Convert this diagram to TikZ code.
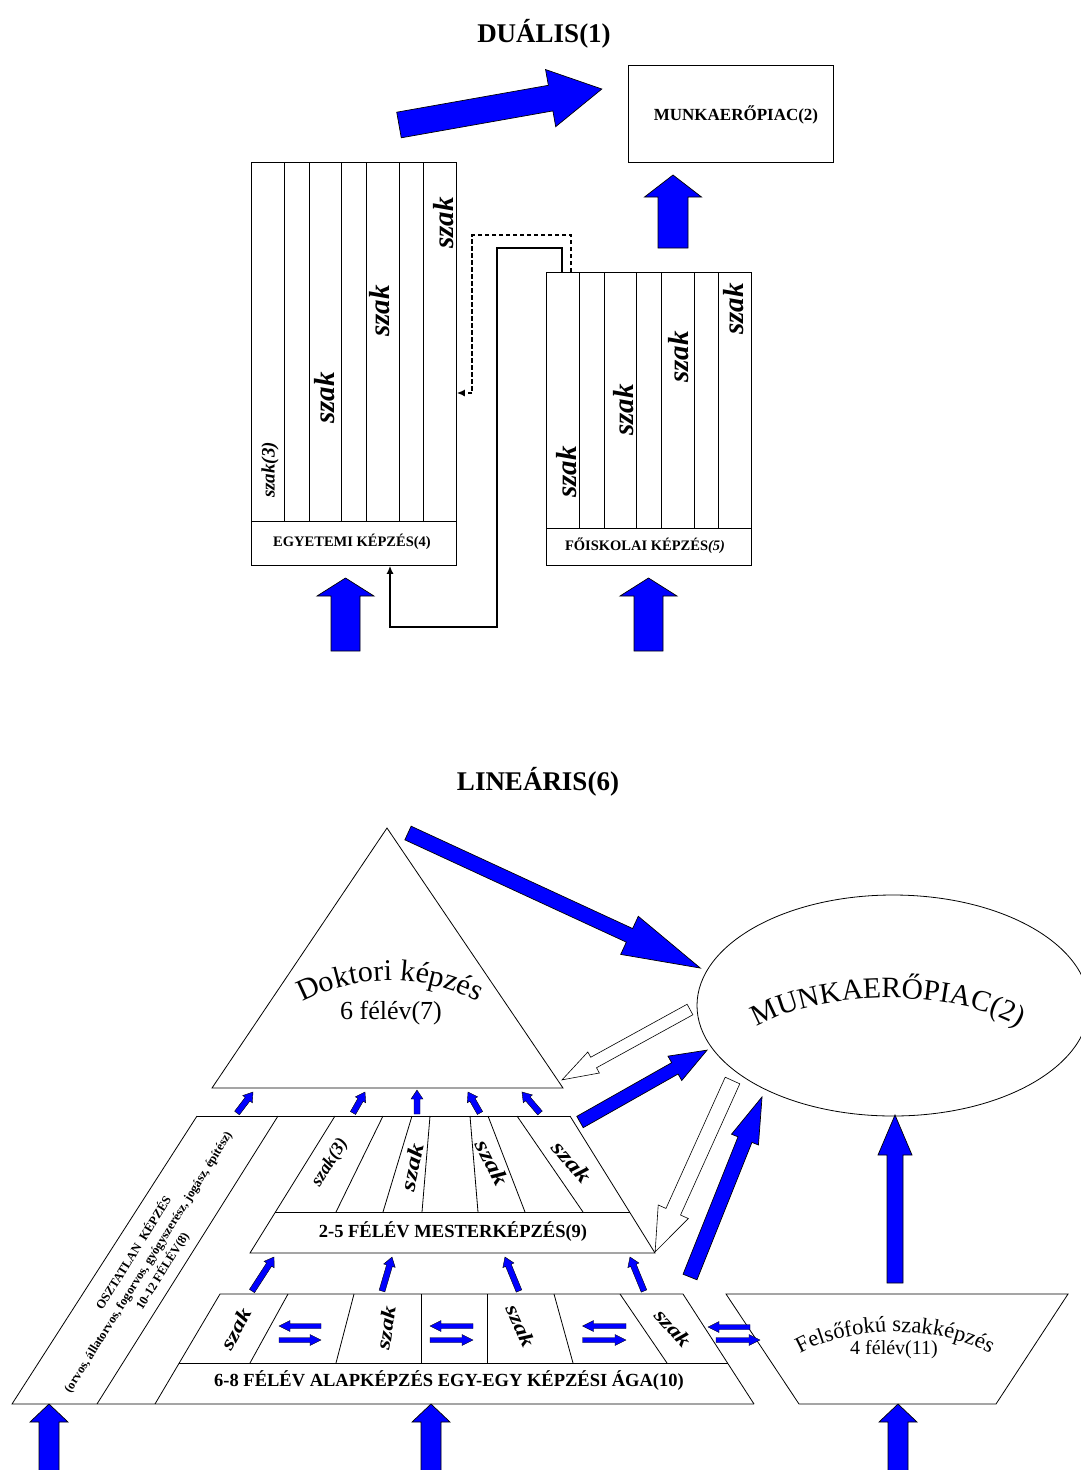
\documentclass[tikz,border=0pt]{standalone}
\usepackage{fontspec}
\setmainfont{Liberation Serif}
\usetikzlibrary{shapes.geometric,arrows.meta,decorations.text}
\definecolor{ablue}{RGB}{0,0,255}
\newcommand\fsz[1]{\fontsize{#1}{#1}\selectfont}
\tikzset{
  thinl/.style={draw=black, line width=0.8pt},
  boxnode/.style={draw=black, line width=0.8pt, inner sep=0pt},
  ba/.style={draw=black, line width=0.7pt, fill=ablue},
  wa/.style={draw=black, line width=0.6pt, fill=white},
  sa/.style={draw=black, line width=0.4pt, fill=ablue},
  pics/barrow/.style n args={4}{code={%
    \draw[pic actions] (0,#2) -- ({#1-#4},#2) -- ({#1-#4},#3) -- (#1,0) -- ({#1-#4},-#3) -- ({#1-#4},-#2) -- (0,-#2) -- cycle;}},
  dszak/.style={rotate=90, font=\bfseries\itshape\fsz{29}, inner sep=0pt},
  dszaks/.style={rotate=90, font=\bfseries\itshape\fsz{19}, inner sep=0pt},
  pszak/.style={font=\bfseries\itshape\fsz{27}, inner sep=0pt},
  bszak/.style={font=\bfseries\itshape\fsz{25}, inner sep=0pt},
  capt/.style={font=\bfseries\fsz{14.5}, inner sep=0pt},
  bandt/.style={font=\bfseries\fsz{18.5}, inner sep=0pt},
  titlet/.style={font=\bfseries\fsz{27}, anchor=base, inner sep=0pt},
  dconn/.style={line width=1.8pt, dash pattern=on 4.5pt off 2.5pt, -{Latex[length=8pt,width=7pt]}},
  sconn/.style={line width=1.6pt, -{Latex[length=8pt,width=7pt]}},
}
\begin{document}
\begin{tikzpicture}[x=1pt,y=-1pt]
\useasboundingbox (0,0) rectangle (1081,1470);
\clip (0,0) rectangle (1081,1470);
\fill[white] (0,0) rectangle (1081,1470);

% ---------------- DUAL ----------------
\node[titlet] (t1) at (544,42) {DUÁLIS(1)};

\node[boxnode, minimum width=205pt, minimum height=97pt, anchor=north west] (mp) at (628,65) {};
\node[font=\bfseries\fsz{17}, inner sep=0pt] (mpt) at (736,115) {MUNKAERŐPIAC(2)};

% Egyetemi
\node[boxnode, minimum width=205pt, minimum height=403pt, anchor=north west] (egy) at (251,162) {};
\draw[thinl] (251,521) -- (456,521);
\foreach \x in {284,309,341,366,399,423} \draw[thinl] (\x,162) -- (\x,521);
\node[capt] (egyc) at (352,542) {EGYETEMI KÉPZÉS(4)};
\node[dszaks] (e1) at (270,470) {szak(3)};
\node[dszak] (e2) at (325,398) {szak};
\node[dszak] (e3) at (380,311) {szak};
\node[dszak] (e4) at (444,223) {szak};

% Foiskolai
\node[boxnode, minimum width=205pt, minimum height=293pt, anchor=north west] (foi) at (546,272) {};
\draw[thinl] (546,528) -- (751,528);
\foreach \x in {579,604,636,661,694,718} \draw[thinl] (\x,272) -- (\x,528);
\node[capt] (foic) at (645,546) {FŐISKOLAI KÉPZÉS\textit{(5)}};
\node[dszak] (f1) at (567,472) {szak};
\node[dszak] (f2) at (624,410) {szak};
\node[dszak] (f3) at (679,357) {szak};
\node[dszak] (f4) at (734,309) {szak};

% connectors
\coordinate (d1) at (571,235);
\coordinate (d2) at (472,235);
\coordinate (d3) at (472,393);
\draw[dconn] ([xshift=25pt]foi.north west) -- (d1) -- (d2) -- (d3) -- (d3 -| egy.east);
\coordinate (s1) at (562,248);
\coordinate (s2) at (497,248);
\coordinate (s3) at (497,627);
\coordinate (s4) at (390,627);
\draw[sconn] ([xshift=16pt]foi.north west) -- (s1) -- (s2) -- (s3) -- (s4) -- (s4 |- egy.south);

% blue arrows (dual)
\pic[ba, rotate=10.06] at (399,125) {barrow={206}{13}{29}{52}};
\pic[ba, rotate=90] at (673,248) {barrow={73}{15}{28.5}{22}};
\pic[ba, rotate=90] at (345.5,651) {barrow={73}{14.5}{28.5}{18}};
\pic[ba, rotate=90] at (648.5,651) {barrow={73}{14.5}{28.5}{18}};

% ---------------- LINEAR ----------------
\node[titlet] (t2) at (538,790) {LINEÁRIS(6)};

% triangle
\draw[thinl] (387,828) -- (212,1088) -- (563,1088) -- cycle;
\path[decorate, decoration={text along path, text={|\fsz{30}|Doktori képzés}, text align=center}]
  (286,1012) .. controls (348,970) and (432,970) .. (494,1012);
\node[font=\fsz{26}, inner sep=0pt] (dok2) at (391,1013) {6 félév(7)};

% ellipse
\node[ellipse, draw=black, line width=0.8pt, minimum width=392pt, minimum height=221pt, inner sep=0pt] (mk) at (893,1005.5) {};
\path[decorate, decoration={text along path, text={|\fsz{29.5}|MUNKAERŐPIAC(2)}, text align=center}]
  (746,1034) .. controls (812,986) and (964,986) .. (1030,1034);

% parallelogram and pyramid
\draw[thinl] (197,1116) -- (570,1116);
\draw[thinl] (197,1116) -- (12,1404) -- (754,1404);
\draw[thinl] (278,1116) -- (97,1404);
\node[font=\bfseries\fontsize{12.5}{17}\selectfont, align=center, rotate=58, inner sep=0pt] (oszt) at (148,1262)
  {OSZTATLAN~~KÉPZÉS\\(orvos, állatorvos, fogorvos, gyógyszerész, jogász, építész)\\10-12 FÉLÉV(8)};

% master
\draw[thinl] (335,1116) -- (250,1253) -- (655,1253) -- (570,1116);
\draw[thinl] (275.4,1212) -- (629.6,1212);
\draw[thinl] (383,1116) -- (336,1212);
\draw[thinl] (412,1116) -- (383,1212);
\draw[thinl] (430,1116) -- (422,1212);
\draw[thinl] (470,1116) -- (478,1212);
\draw[thinl] (488,1116) -- (525,1212);
\draw[thinl] (517,1116) -- (583,1212);
\node[bandt] (mst) at (453,1232) {2-5 FÉLÉV MESTERKÉPZÉS(9)};
\node[font=\bfseries\itshape\fsz{18}, inner sep=0pt, rotate=58] (m1) at (330,1163) {szak(3)};
\node[pszak, rotate=78] (m2) at (412,1167) {\scalebox{1}[0.8]{szak}};
\node[pszak, rotate=-63] (m3) at (492,1163) {\scalebox{1}[0.8]{szak}};
\node[pszak, rotate=-50] (m4) at (572,1162) {\scalebox{1}[0.8]{szak}};

% bachelor
\draw[thinl] (155,1404) -- (220,1294) -- (683,1294) -- (754,1404);
\draw[thinl] (179.2,1363) -- (727.5,1363);
\draw[thinl] (288,1294) -- (250,1363);
\draw[thinl] (354,1294) -- (336,1363);
\draw[thinl] (421,1294) -- (421,1363);
\draw[thinl] (487,1294) -- (487,1363);
\draw[thinl] (554,1294) -- (573,1363);
\draw[thinl] (620,1294) -- (667,1363);
\node[bandt] (bst) at (449,1381) {6-8 FÉLÉV ALAPKÉPZÉS EGY-EGY KÉPZÉSI ÁGA(10)};
\node[bszak, rotate=62] (b1) at (236,1329) {\scalebox{1}[0.8]{szak}};
\node[bszak, rotate=82] (b2) at (386,1328) {\scalebox{1}[0.8]{szak}};
\node[bszak, rotate=-65] (b3) at (521,1326) {\scalebox{1}[0.8]{szak}};
\node[bszak, rotate=-48] (b4) at (673,1328) {\scalebox{1}[0.8]{szak}};

% felsofoku
\draw[thinl] (726,1294) -- (1068,1294) -- (996,1404) -- (799,1404) -- cycle;
\path[decorate, decoration={text along path, text={|\fsz{22.5}|Felsőfokú szakképzés}, text align=center}]
  (796,1356) .. controls (848,1324) and (942,1324) .. (994,1356);
\node[font=\fsz{20}, inner sep=0pt] (fel2) at (894,1350) {4 félév(11)};

% big arrows
\pic[ba, rotate=90] at (49,1480) {barrow={76}{10}{19}{18}};
\pic[ba, rotate=90] at (431,1480) {barrow={76}{10}{19}{18}};
\pic[ba, rotate=90] at (898,1480) {barrow={76}{10}{19}{18}};
\pic[ba, rotate=90] at (895,1283) {barrow={168}{8}{17}{40}};
\pic[ba, rotate=-24.8] at (408,833) {barrow={322}{7.5}{21}{78}};
\pic[ba, rotate=29.5] at (580,1122) {barrow={146}{6.5}{14}{37}};
\pic[ba, rotate=68.2] at (690,1277) {barrow={194}{7.5}{14.5}{46}};
\pic[wa, rotate=-151.2] at (690,1009.5) {barrow={146}{6}{12}{36}};
\pic[wa, rotate=-114.3] at (732.5,1080.5) {barrow={188}{8}{16.5}{44}};

% small arrows master -> triangle
\pic[sa, rotate=52.7] at (237,1113) {barrow={26.4}{3}{6}{9}};
\pic[sa, rotate=60.3] at (353,1113) {barrow={24.2}{3}{6}{9}};
\pic[sa, rotate=90] at (417,1114) {barrow={24}{3}{6}{9}};
\pic[sa, rotate=119.7] at (480,1113) {barrow={24.2}{3}{6}{9}};
\pic[sa, rotate=130.6] at (540,1113) {barrow={27.7}{3}{6}{9}};
% bachelor -> master
\pic[sa, rotate=57.1] at (252,1291) {barrow={40.5}{3}{6}{9}};
\pic[sa, rotate=73.6] at (382,1291) {barrow={35.4}{3}{6}{9}};
\pic[sa, rotate=112.4] at (519,1291) {barrow={36.8}{3}{6}{9}};
\pic[sa, rotate=112.4] at (644,1291) {barrow={36.8}{3}{6}{9}};
% horizontal pairs
\pic[sa, rotate=180] at (321,1326) {barrow={42}{2.5}{5.5}{11}};
\pic[sa] at (279,1340) {barrow={42}{2.5}{5.5}{11}};
\pic[sa, rotate=180] at (473,1326) {barrow={43}{2.5}{5.5}{11}};
\pic[sa] at (430,1340) {barrow={43}{2.5}{5.5}{11}};
\pic[sa, rotate=180] at (626,1326) {barrow={43.5}{2.5}{5.5}{11}};
\pic[sa] at (582.5,1340) {barrow={43.5}{2.5}{5.5}{11}};
\pic[sa, rotate=180] at (750,1327) {barrow={42}{2.5}{5.5}{11}};
\pic[sa] at (716,1340) {barrow={44}{2.5}{5.5}{11}};
\end{tikzpicture}
\end{document}
